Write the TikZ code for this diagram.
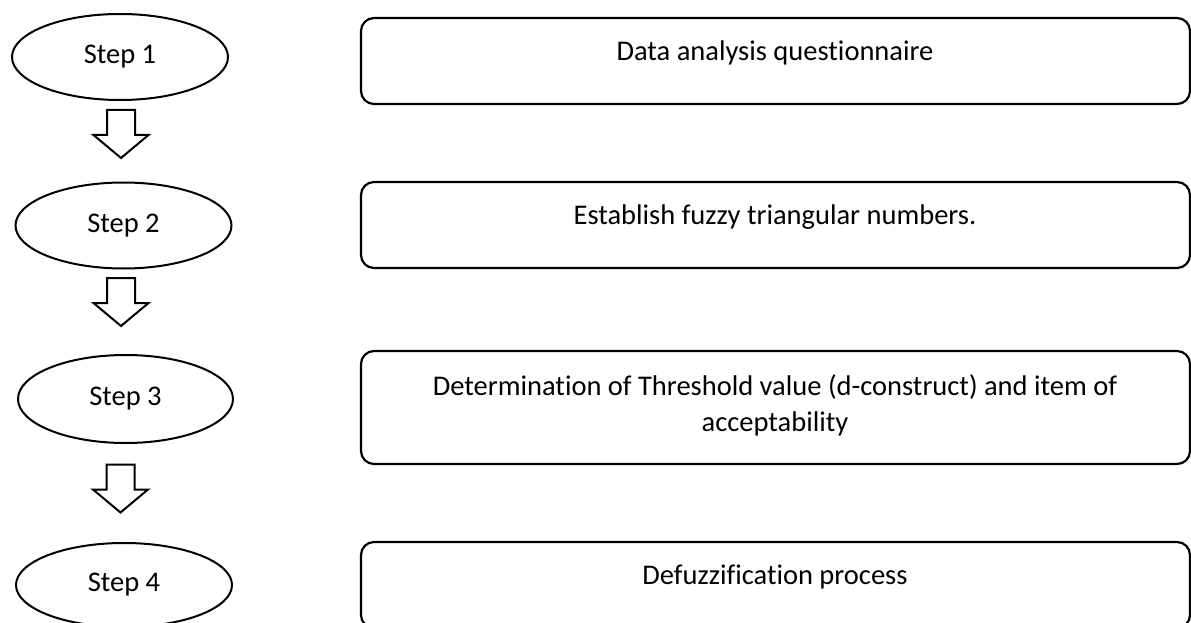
\documentclass[tikz,border=0pt]{standalone}
\usepackage{fontspec}
\setmainfont{Carlito}[Ligatures={NoCommon,NoContextual}]
\usetikzlibrary{shapes.geometric,calc}
\tikzset{
  stepell/.style={draw=black, line width=2pt, ellipse, inner sep=0pt,
    minimum width=216pt, minimum height=86pt, font=\fontsize{28.5}{36}\selectfont},
  taskbox/.style={draw=black, line width=2.2pt, rounded corners=13pt, inner sep=0pt,
    minimum width=829pt},
  tasktext/.style={font=\fontsize{28.5}{36}\selectfont, align=center, inner sep=0pt},
  blockarrow/.pic={\draw[line width=2pt, line join=miter]
     (-14,0) -- (14,0) -- (14,25) -- (27.5,25) -- (0,48) -- (-27.5,25) -- (-14,25) -- cycle;}
}
\begin{document}
\begin{tikzpicture}[x=1pt,y=-1pt]
\useasboundingbox[fill=white] (0,0) rectangle (1191,623);
% ellipses
\node[stepell] (e1) at (120,57) {Step 1};
\node[stepell] (e2) at (123.5,225.5) {Step 2};
\node[stepell, minimum width=215pt, minimum height=88pt] (e3) at (125.5,399) {Step 3};
\node[stepell, minimum height=84pt] (e4) at (124,585) {Step 4};
% boxes
\node[taskbox, minimum height=86pt] (b1) at (775.5,61) {};
\node[taskbox, minimum height=86pt] (b2) at (775.5,225) {};
\node[taskbox, minimum height=113pt] (b3) at (775.5,407.5) {};
\node[taskbox, minimum height=86pt] (b4) at (775.5,585) {};
% texts
\node[tasktext] (t1) at (775,53) {Data analysis questionnaire};
\node[tasktext] (t2) at (775,217) {Establish fuzzy triangular numbers.};
\node[tasktext] (t3) at (775,405) {Determination of Threshold value (d-construct) and item of\\acceptability};
\node[tasktext] (t4) at (775,577) {Defuzzification process};
% block arrows
\coordinate (a1) at (121,110);
\coordinate (a2) at (121,278);
\coordinate (a3) at (120.5,464.5);
\pic at (a1) {blockarrow};
\pic at (a2) {blockarrow};
\pic at (a3) {blockarrow};
\end{tikzpicture}
\end{document}
